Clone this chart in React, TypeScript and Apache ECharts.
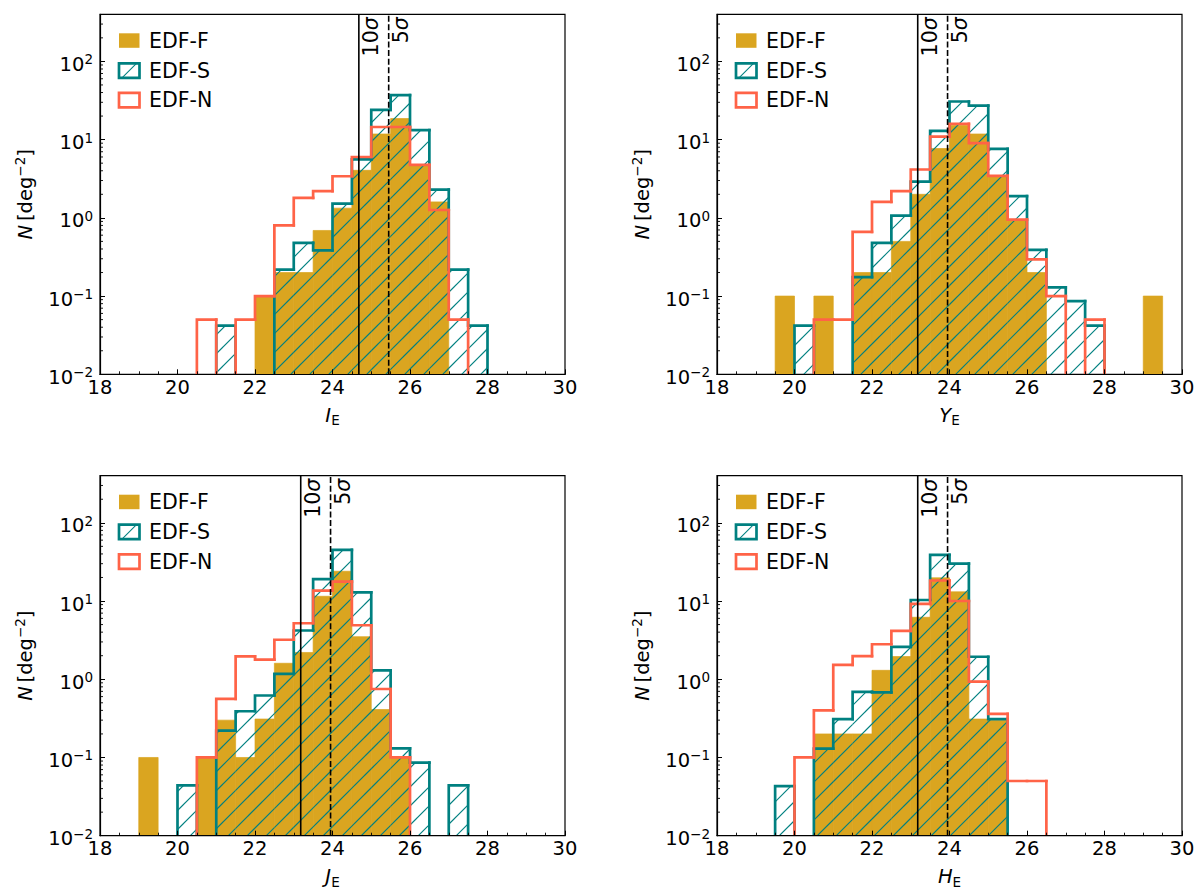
import React, { useEffect, useRef } from 'react';
import * as echarts from 'echarts';

const FONT = 'DejaVu Sans';
const GOLD = '#DAA520';
const TEAL = '#008080';
const TOMATO = '#FF6347';

const X_MIN = 18;
const X_MAX = 30;
const Y_MIN = 0.01;
const Y_MAX = 400;
const BIN_WIDTH = 0.5;

// lower edges of the 0.5 mag bins (19.0 ... 29.5)
const binLow = [
  19.0, 19.5, 20.0, 20.5, 21.0, 21.5, 22.0, 22.5, 23.0, 23.5, 24.0,
  24.5, 25.0, 25.5, 26.0, 26.5, 27.0, 27.5, 28.0, 28.5, 29.0, 29.5,
];

// number counts per bin [deg^-2]; 0 = empty bin
const iF = [0, 0, 0, 0, 0, 0, 0.1, 0.2, 0.2, 0.69, 1.33, 4.05, 11.8, 18.6, 4.6, 1.6, 0, 0, 0, 0, 0, 0];
const iS = [0, 0, 0, 0, 0.042, 0, 0, 0.218, 0.48, 0.385, 1.52, 5.6, 24, 37, 13.2, 2.29, 0.218, 0.042, 0, 0, 0, 0];
const iN = [0, 0, 0, 0.05, 0, 0.05, 0.1, 0.8, 1.8, 2.2, 3.4, 6.0, 14.5, 14.5, 4.75, 1.26, 0.05, 0, 0, 0, 0, 0];

const yF = [0, 0.1, 0, 0.1, 0, 0.2, 0.2, 0.5, 2.0, 7.7, 15.3, 11.8, 3.35, 0.95, 0.2, 0, 0, 0, 0, 0, 0.1, 0];
const yS = [0, 0, 0.042, 0, 0, 0.175, 0.478, 1.07, 2.9, 12.9, 30.7, 27.2, 7.6, 1.9, 0.39, 0.129, 0.086, 0.042, 0, 0, 0, 0];
const yN = [0, 0, 0, 0.05, 0.05, 0.66, 1.6, 2.2, 4.15, 10.9, 15.9, 9.0, 3.45, 0.95, 0.295, 0.1, 0, 0.05, 0, 0, 0, 0];

const jF = [0.1, 0, 0, 0.1, 0.3, 0.1, 0.31, 1.6, 2.2, 11.5, 24, 3.5, 0.41, 0.1, 0, 0, 0, 0, 0, 0, 0, 0];
const jS = [0, 0, 0.044, 0, 0.22, 0.39, 0.62, 1.17, 4.2, 19, 45, 12.9, 1.3, 0.131, 0.086, 0, 0.044, 0, 0, 0, 0, 0];
const jN = [0, 0, 0, 0.1, 0.56, 1.96, 1.78, 3.2, 5.2, 13.6, 17.7, 4.9, 0.75, 0.1, 0, 0, 0, 0, 0, 0, 0, 0];

const hF = [0, 0, 0, 0.2, 0.2, 0.2, 1.3, 1.95, 6.2, 19.8, 13.1, 0.31, 0.3, 0, 0, 0, 0, 0, 0, 0, 0, 0];
const hS = [0, 0.043, 0, 0.13, 0.31, 0.69, 0.68, 2.6, 10.3, 39, 30, 1.94, 0.31, 0, 0, 0, 0, 0, 0, 0, 0, 0];
const hN = [0, 0, 0.1, 0.4, 1.53, 1.97, 2.8, 4.15, 9.2, 18.3, 10, 0.93, 0.36, 0.05, 0.05, 0, 0, 0, 0, 0, 0, 0];

const bandNames = ['I', 'Y', 'J', 'H'];
const fieldNames = ['EDF-F', 'EDF-S', 'EDF-N'];
const countsF = [iF, yF, jF, hF];
const countsS = [iS, yS, jS, hS];
const countsN = [iN, yN, jN, hN];

// depth limits per band
const sigma10 = [24.68, 23.18, 23.18, 23.18];
const sigma5 = [25.45, 23.95, 23.95, 23.95];
const sigmaLabels = ['{n|10}{g|σ}', '{n|5}{g|σ}'];

const yMinorTicks = [
  0.02, 0.03, 0.04, 0.05, 0.06, 0.07, 0.08, 0.09,
  0.2, 0.3, 0.4, 0.5, 0.6, 0.7, 0.8, 0.9,
  2, 3, 4, 5, 6, 7, 8, 9,
  20, 30, 40, 50, 60, 70, 80, 90,
  200, 300,
];

// panel placement (px)
const GRID_W = 465;
const GRID_H = 360;
const gridPos = [
  [100, 14.3],
  [717, 14.3],
  [100, 475.7],
  [717, 475.7],
];

const STEP_LW = 2.7;
const HATCH_STEP = 19;
const FS = 19.5;
const FS_LEGEND = 20.5;

function barData(vals: number[]) {
  const out: number[][] = [];
  vals.forEach((v, i) => {
    if (v > 0) out.push([binLow[i], binLow[i] + BIN_WIDTH, v]);
  });
  return out;
}

function stepData(vals: number[]) {
  const out: number[][] = [];
  for (let i = 0; i <= vals.length; i++) {
    const v = i < vals.length ? vals[i] : 0;
    const prev = i > 0 ? vals[i - 1] : 0;
    if (v > 0 || prev > 0) {
      const lo = i < vals.length ? binLow[i] : binLow[vals.length - 1] + BIN_WIDTH;
      out.push([lo, lo + BIN_WIDTH, v, prev]);
    }
  }
  return out;
}

const renderBar = (_p: any, api: any) => {
  const lo = api.value(0);
  const hi = api.value(1);
  const v = api.value(2);
  const a = api.coord([lo, v]);
  const b = api.coord([hi, Y_MIN]);
  return {
    type: 'rect',
    shape: { x: a[0], y: a[1], width: b[0] - a[0], height: b[1] - a[1] },
    // thin same-colour edge closes the anti-aliasing seam between neighbouring bars
    style: { fill: GOLD, stroke: GOLD, lineWidth: 0.7 },
  };
};

const makeStep = (color: string, hatch: boolean) => (_p: any, api: any) => {
  const lo = api.value(0);
  const hi = api.value(1);
  const v = api.value(2);
  const prev = api.value(3);
  const pb = api.coord([lo, Y_MIN]);
  const bottom = pb[1];
  const x0 = pb[0];
  const x1 = api.coord([hi, Y_MIN])[0];
  const yAt = (val: number) => (val > 0 ? api.coord([lo, val])[1] : bottom);
  const yPrev = yAt(prev);
  const yCur = yAt(v);
  const children: any[] = [];
  if (hatch && v > 0) {
    let c = Math.ceil((x0 + yCur) / HATCH_STEP) * HATCH_STEP;
    for (; c < x1 + bottom; c += HATCH_STEP) {
      const xa = Math.max(x0, c - bottom);
      const xb = Math.min(x1, c - yCur);
      if (xb > xa) {
        children.push({
          type: 'line',
          shape: { x1: xa, y1: c - xa, x2: xb, y2: c - xb },
          style: { stroke: color, lineWidth: 1.1, fill: 'none' },
        });
      }
    }
  }
  const pts = [[x0, yPrev], [x0, yCur]];
  if (v > 0) pts.push([x1, yCur]);
  children.push({
    type: 'polyline',
    shape: { points: pts },
    style: { stroke: color, fill: 'none', lineWidth: STEP_LW, lineCap: 'square', lineJoin: 'miter' },
  });
  return { type: 'group', children };
};

const SIGMA_RICH = {
  n: { fontFamily: FONT, fontSize: FS_LEGEND, fill: '#000', lineHeight: 22 },
  g: { fontFamily: FONT, fontSize: FS_LEGEND, fontStyle: 'italic', fill: '#000', lineHeight: 22 },
};

const renderSigma = (_p: any, api: any) => {
  const x = api.value(0);
  const kind = api.value(2);
  const top = api.coord([x, Y_MAX]);
  const bot = api.coord([x, Y_MIN]);
  return {
    type: 'group',
    children: [
      {
        type: 'line',
        shape: { x1: bot[0], y1: bot[1], x2: top[0], y2: top[1] },
        style: { stroke: '#000', lineWidth: 1.6, lineDash: kind ? [6, 2.6] : null, fill: 'none' },
      },
      {
        type: 'text',
        x: top[0] + 1.5,
        y: top[1] + 3,
        rotation: Math.PI / 2,
        style: {
          text: sigmaLabels[kind],
          rich: SIGMA_RICH,
          align: 'right',
          verticalAlign: 'top',
        },
      },
    ],
  };
};

const renderMinorTick = (_p: any, api: any) => {
  const p = api.coord([api.value(0), api.value(1)]);
  return {
    type: 'line',
    shape: { x1: p[0], y1: p[1], x2: p[0] + 3, y2: p[1] },
    style: { stroke: '#000', lineWidth: 0.9, fill: 'none' },
  };
};

function logLabel(v: number) {
  const lg = Math.log10(v);
  const e = Math.round(lg);
  if (Math.abs(lg - e) > 1e-6) return '';
  return `{b|10}{s|${e < 0 ? '\u2212' + -e : e}}`;
}

function buildOption() {
  const grid = gridPos.map(([l, t]) => ({
    left: l,
    top: t,
    width: GRID_W,
    height: GRID_H,
    show: true,
    borderColor: '#000',
    borderWidth: 1.2,
    backgroundColor: 'transparent',
  }));

  const xAxis = bandNames.map((band, i) => ({
    type: 'value',
    gridIndex: i,
    min: X_MIN,
    max: X_MAX,
    interval: 2,
    z: 10,
    name: `{it|${band}}{sub|E}`,
    nameLocation: 'middle',
    nameGap: 29,
    nameTextStyle: {
      rich: {
        it: { fontFamily: FONT, fontSize: FS, fontStyle: 'italic', color: '#000', lineHeight: 24 },
        sub: { fontFamily: FONT, fontSize: 13.5, color: '#000', lineHeight: 14, verticalAlign: 'bottom' },
      },
    },
    axisLine: { show: true, onZero: false, lineStyle: { color: '#000', width: 1.2 } },
    axisTick: { show: true, inside: true, length: 5, lineStyle: { color: '#000', width: 1 } },
    minorTick: { show: true, splitNumber: 4, length: 3, lineStyle: { color: '#000', width: 0.9 } },
    axisLabel: { fontFamily: FONT, fontSize: FS, color: '#000', margin: 3, lineHeight: 20 },
    splitLine: { show: false },
    minorSplitLine: { show: false },
  }));

  const yAxis = bandNames.map((_b, i) => ({
    type: 'log',
    logBase: 10,
    gridIndex: i,
    min: Y_MIN,
    max: Y_MAX,
    z: 10,
    name: '{it|N}{r|\u2009[deg}{sup|\u22122}{r|]}',
    nameLocation: 'middle',
    nameGap: 63,
    nameRotate: 90,
    nameTextStyle: {
      rich: {
        it: { fontFamily: FONT, fontSize: FS, fontStyle: 'italic', color: '#000', lineHeight: 24 },
        r: { fontFamily: FONT, fontSize: FS, color: '#000', lineHeight: 24 },
        sup: { fontFamily: FONT, fontSize: 13.5, color: '#000', lineHeight: 10, verticalAlign: 'top' },
      },
    },
    axisLine: { show: true, onZero: false, lineStyle: { color: '#000', width: 1.2 } },
    axisTick: { show: true, inside: true, length: 5, lineStyle: { color: '#000', width: 1 } },
    minorTick: { show: false },
    axisLabel: {
      formatter: logLabel,
      margin: 7,
      showMaxLabel: false,
      padding: [6, 0, 0, 0],
      rich: {
        b: { fontFamily: FONT, fontSize: FS, color: '#000', lineHeight: 24 },
        s: { fontFamily: FONT, fontSize: 13.5, color: '#000', lineHeight: 10, verticalAlign: 'top' },
      },
    },
    splitLine: { show: false },
  }));

  const series: any[] = [];
  bandNames.forEach((_b, i) => {
    series.push({
      type: 'custom',
      name: fieldNames[0],
      xAxisIndex: i,
      yAxisIndex: i,
      clip: true,
      silent: true,
      data: barData(countsF[i]),
      encode: { x: [0, 1], y: 2 },
      renderItem: renderBar,
      z: 2,
    });
    series.push({
      type: 'custom',
      name: fieldNames[1],
      xAxisIndex: i,
      yAxisIndex: i,
      clip: true,
      silent: true,
      data: stepData(countsS[i]),
      encode: { x: [0, 1], y: 2 },
      renderItem: makeStep(TEAL, true),
      z: 3,
    });
    series.push({
      type: 'custom',
      name: fieldNames[2],
      xAxisIndex: i,
      yAxisIndex: i,
      clip: true,
      silent: true,
      data: stepData(countsN[i]),
      encode: { x: [0, 1], y: 2 },
      renderItem: makeStep(TOMATO, false),
      z: 4,
    });
    series.push({
      type: 'custom',
      xAxisIndex: i,
      yAxisIndex: i,
      silent: true,
      data: [
        [sigma10[i], Y_MAX, 0],
        [sigma5[i], Y_MAX, 1],
      ],
      encode: { x: 0, y: 1 },
      renderItem: renderSigma,
      z: 5,
    });
    series.push({
      type: 'custom',
      xAxisIndex: i,
      yAxisIndex: i,
      silent: true,
      data: yMinorTicks.map((v) => [X_MIN, v]),
      encode: { x: 0, y: 1 },
      renderItem: renderMinorTick,
      z: 11,
    });
  });

  const graphic: any[] = [];
  gridPos.forEach(([L, T]) => {
    const px = L + 19;
    const pw = 20.5;
    const ph = 14.5;
    const rows = [T + 19, T + 49, T + 78.6];
    graphic.push(
      { type: 'rect', z: 100, shape: { x: px, y: rows[0], width: pw, height: ph }, style: { fill: GOLD } },
      {
        type: 'rect',
        z: 100,
        shape: { x: px, y: rows[1], width: pw, height: ph },
        style: { fill: '#fff', stroke: TEAL, lineWidth: STEP_LW },
      },
      {
        type: 'line',
        z: 101,
        shape: { x1: px + 3, y1: rows[1] + ph, x2: px + 3 + ph, y2: rows[1] },
        style: { stroke: TEAL, lineWidth: 1.1 },
      },
      {
        type: 'rect',
        z: 100,
        shape: { x: px, y: rows[2], width: pw, height: ph },
        style: { fill: '#fff', stroke: TOMATO, lineWidth: STEP_LW },
      },
    );
    fieldNames.forEach((nm, k) => {
      graphic.push({
        type: 'text',
        z: 100,
        x: L + 49,
        y: rows[k] + ph / 2,
        style: {
          text: nm,
          fontFamily: FONT,
          fontSize: FS_LEGEND,
          fill: '#000',
          verticalAlign: 'middle',
          align: 'left',
        },
      });
    });
  });

  return {
    animation: false,
    backgroundColor: '#fff',
    grid,
    xAxis,
    yAxis,
    series,
    graphic,
  };
}

export default function App() {
  const ref = useRef<HTMLDivElement>(null);
  useEffect(() => {
    if (!ref.current) return;
    const chart = echarts.init(ref.current, undefined, { renderer: 'svg' });
    chart.setOption(buildOption() as any);
    return () => chart.dispose();
  }, []);
  return (
    <div
      ref={ref}
      style={{ position: 'fixed', left: 0, top: 0, width: 1200, height: 895, background: '#fff' }}
    />
  );
}
